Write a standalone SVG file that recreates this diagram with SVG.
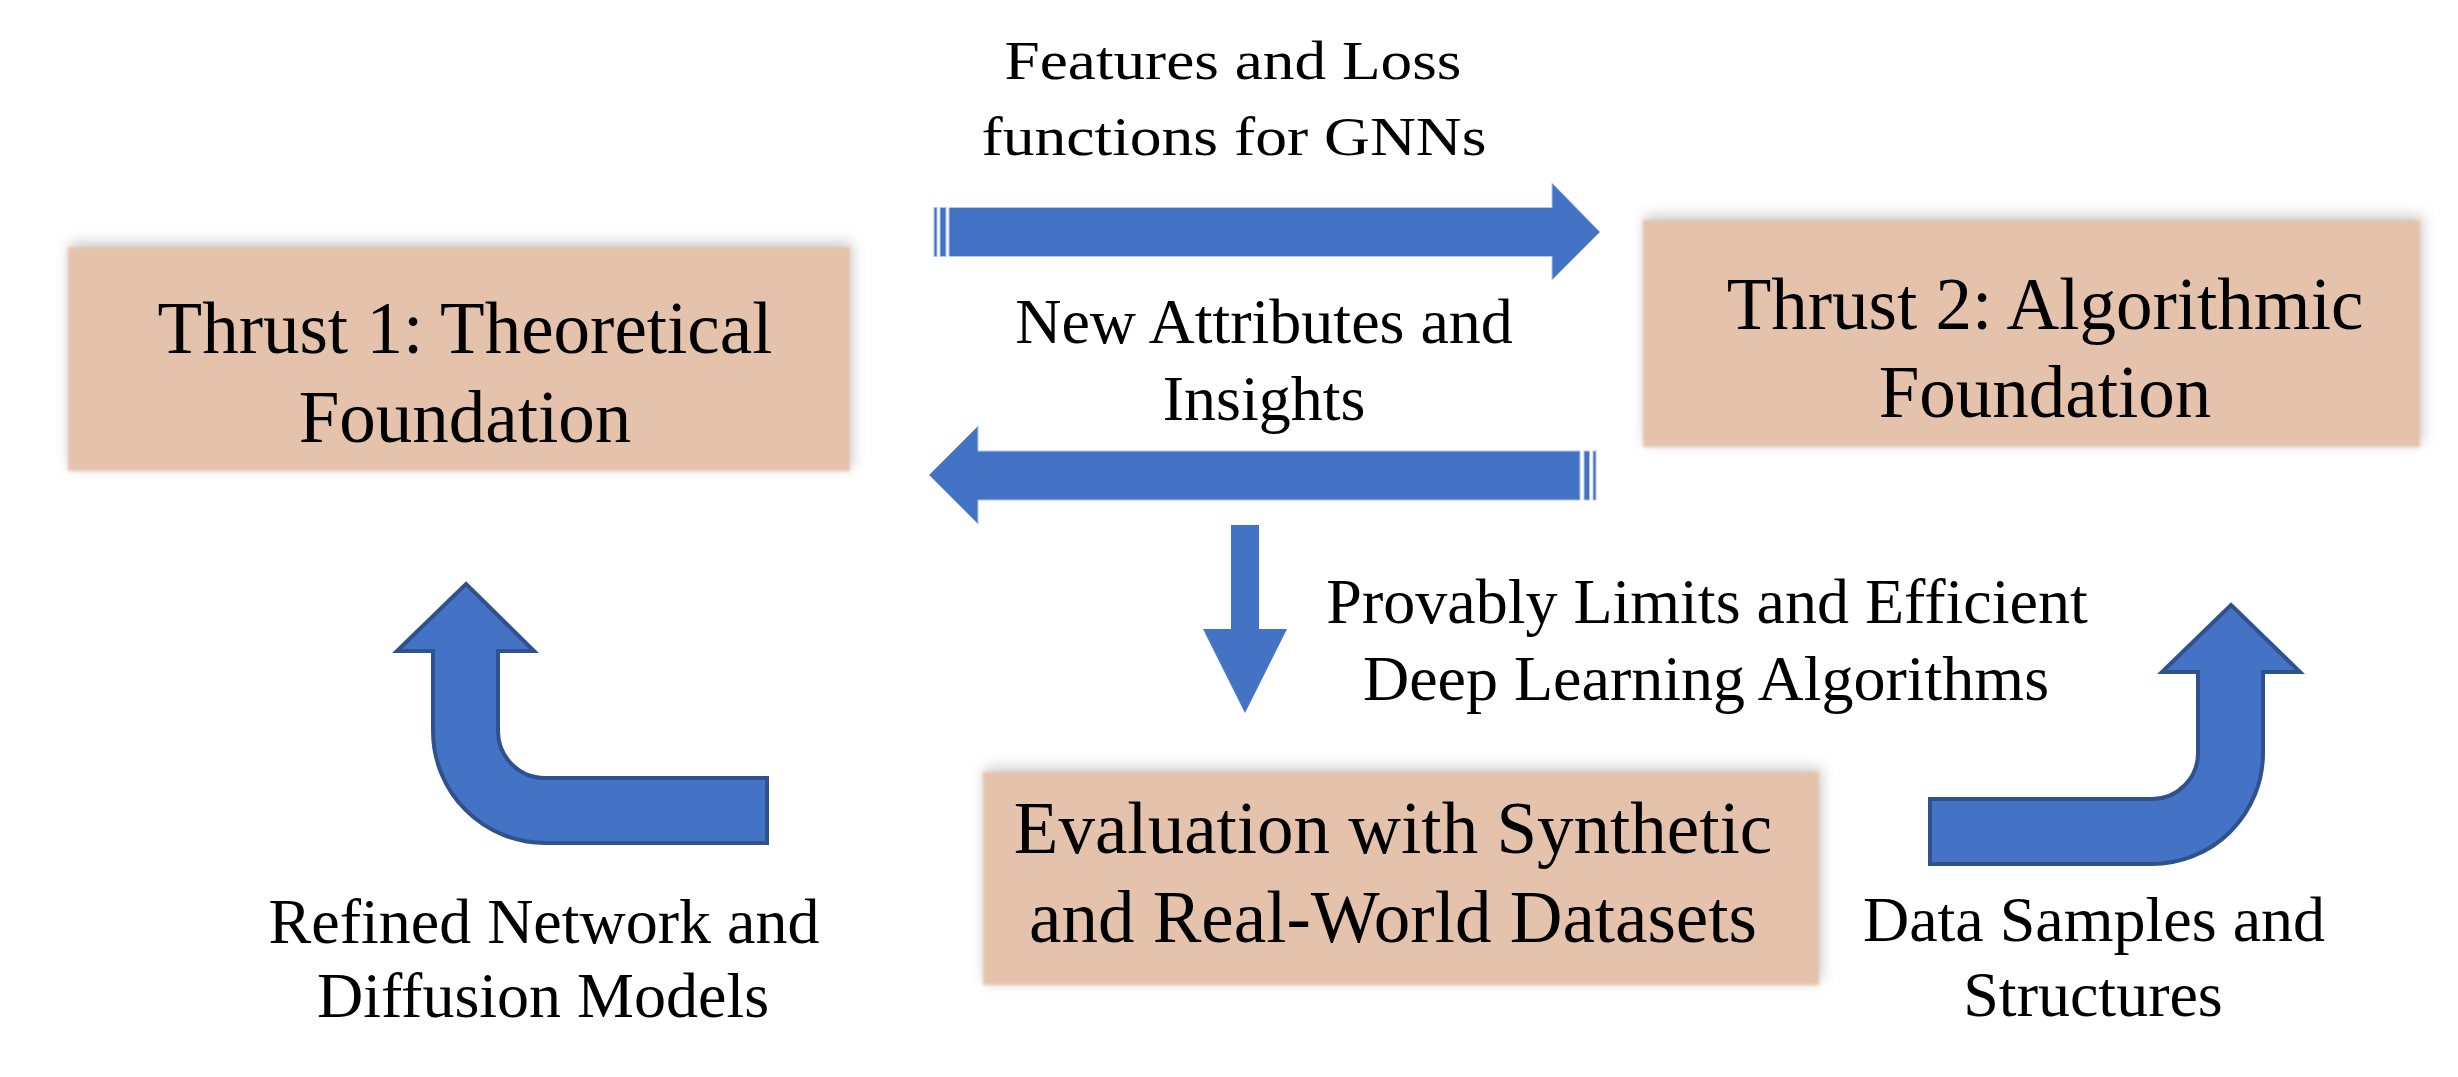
<svg xmlns="http://www.w3.org/2000/svg" width="2458" height="1077" viewBox="0 0 2458 1077">
<defs>
<style>
.box{fill:#E5C2AB;}
.boxtxt{font-family:"Liberation Serif","Times New Roman",serif;font-size:73px;fill:#000;text-anchor:middle;}
.lbl{font-family:"Liberation Serif","Times New Roman",serif;font-size:64px;fill:#000;text-anchor:middle;}
.arr{fill:#4472C4;stroke:#B4C7E7;stroke-width:1;}
.bent{fill:#4472C4;stroke:#2F528F;stroke-width:4;stroke-linejoin:miter;}
</style>
<filter id="soft" x="-10%" y="-20%" width="120%" height="140%">
<feGaussianBlur in="SourceAlpha" stdDeviation="7" result="b"/>
<feOffset in="b" dx="2" dy="-4" result="o"/>
<feFlood flood-color="#808080" flood-opacity="0.45"/>
<feComposite in2="o" operator="in" result="sh"/>
<feGaussianBlur in="SourceGraphic" stdDeviation="1.5" result="sg"/>
<feMerge><feMergeNode in="sh"/><feMergeNode in="sg"/></feMerge>
</filter>
</defs>
<rect width="2458" height="1077" fill="#FFFFFF"/>

<g id="connectors">
<g id="arrow-top">
<rect class="arr" x="934" y="207.5" width="3" height="49"/>
<rect class="arr" x="940" y="207.5" width="6" height="49"/>
<path class="arr" d="M949,207.5 H1552 V183 L1600,232 L1552,280 V256.5 H949 Z"/>
</g>
<g id="arrow-bottom">
<path class="arr" d="M1580,451 H978 V426 L929,475 L978,524 V500 H1580 Z"/>
<rect class="arr" x="1584" y="451" width="5.5" height="49"/>
<rect class="arr" x="1593" y="451" width="3" height="49"/>
</g>
<path id="arrow-down" fill="#4472C4" d="M1231,525 H1259 V629 H1287 L1245,713 L1203,629 H1231 Z"/>
<path id="arrow-bent-left" class="bent" d="M466,584 L534,651 H498 V731 A47,47 0 0 0 545,778 H767 V843 H545 A112,112 0 0 1 433,731 V651 H397 Z"/>
<path id="arrow-bent-right" class="bent" d="M2231,605 L2300,672 H2263 V753 A111,111 0 0 1 2152,864 H1930 V799 H2152 A46,46 0 0 0 2198,753 V672 H2162 Z"/>
</g>

<g id="node-thrust1">
<rect class="box" x="68" y="247" width="782" height="224" filter="url(#soft)"/>
<text class="boxtxt" x="465" y="353">Thrust 1: Theoretical</text>
<text class="boxtxt" x="465" y="442">Foundation</text>
</g>
<g id="node-thrust2">
<rect class="box" x="1643" y="220" width="777" height="227" filter="url(#soft)"/>
<text class="boxtxt" x="2045" y="329">Thrust 2: Algorithmic</text>
<text class="boxtxt" x="2045" y="417">Foundation</text>
</g>
<g id="node-evaluation">
<rect class="box" x="983" y="772" width="836" height="213" filter="url(#soft)"/>
<text class="boxtxt" x="1393" y="853">Evaluation with Synthetic</text>
<text class="boxtxt" x="1393" y="942">and Real-World Datasets</text>
</g>

<g id="labels">
<text class="lbl" x="1233" y="79" style="font-size:55px" textLength="457" lengthAdjust="spacingAndGlyphs">Features and Loss</text>
<text class="lbl" x="1234" y="155" style="font-size:55px" textLength="505" lengthAdjust="spacingAndGlyphs">functions for GNNs</text>
<text class="lbl" x="1264" y="343">New Attributes and</text>
<text class="lbl" x="1264" y="420">Insights</text>
<text class="lbl" x="1707" y="623">Provably Limits and Efficient</text>
<text class="lbl" x="1706" y="700">Deep Learning Algorithms</text>
<text class="lbl" x="544" y="943">Refined Network and</text>
<text class="lbl" x="543" y="1017">Diffusion Models</text>
<text class="lbl" x="2094" y="941">Data Samples and</text>
<text class="lbl" x="2093" y="1016">Structures</text>
</g>
</svg>
